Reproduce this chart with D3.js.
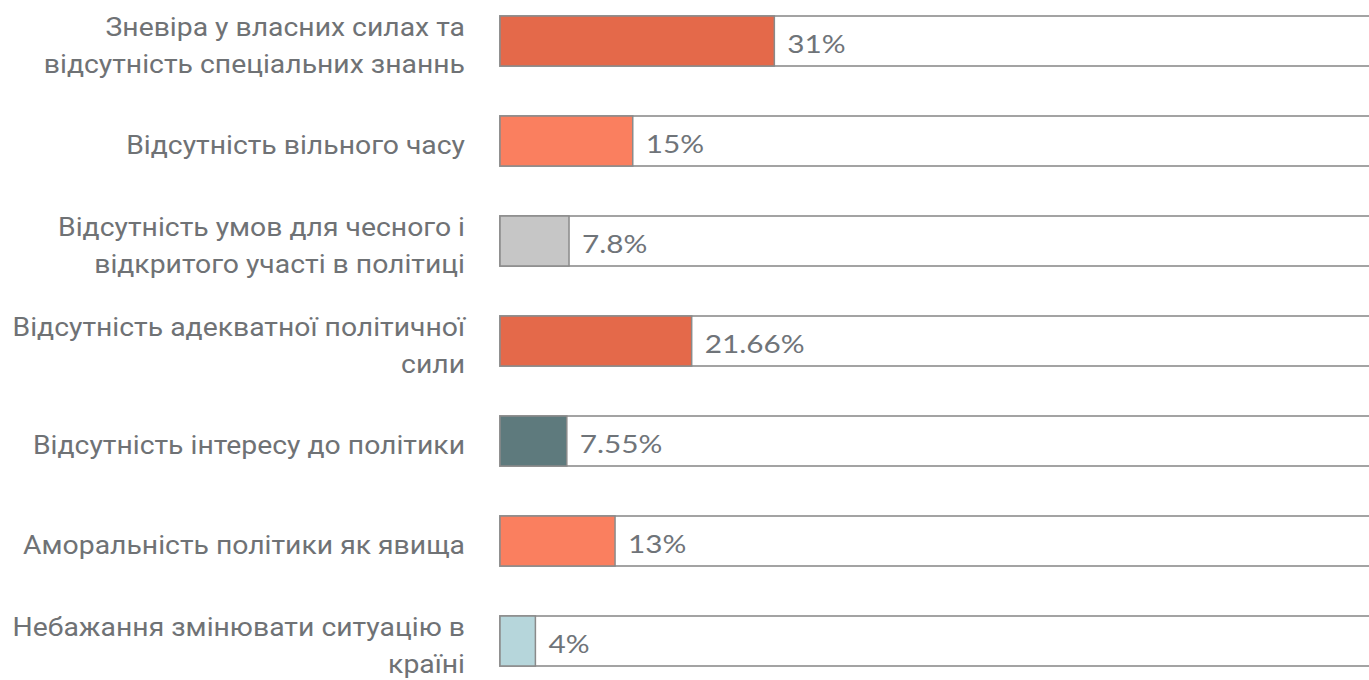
<!DOCTYPE html>
<html lang="en">
<head>
<meta charset="UTF-8">
<script src="https://d3js.org/d3.v7.min.js"></script>
<style>
  body { margin: 0; background: #fff; }
  .label { font-family: Roboto, "Noto Sans", sans-serif; font-size: 26px; fill: #6f7275; }
  .value { font-family: Lato, "Noto Sans", sans-serif; font-size: 25px; fill: #6f7479; }
</style>
</head>
<body>
<svg class="chart"></svg>
<script>

const categories = [
  ["Зневіра у власних силах та", "відсутність спеціальних знаннь"],
  ["Відсутність вільного часу"],
  ["Відсутність умов для чесного і", "відкритого участі в політиці"],
  ["Відсутність адекватної політичної", "сили"],
  ["Відсутність інтересу до політики"],
  ["Аморальність політики як явища"],
  ["Небажання змінювати ситуацію в", "країні"]
];
const values = [31, 15, 7.8, 21.66, 7.55, 13, 4];
const colors = ["#e4694a", "#fa7f5f", "#c6c6c6", "#e4694a", "#5e7a7d", "#fa7f5f", "#b6d6db"];

const width = 1369, height = 680;

const svg = d3.select(".chart")
    .attr("width", width)
    .attr("height", height);

const x = d3.scaleLinear()
    .domain([0, 100])
    .range([500, 1385]);

const y = d3.scaleBand()
    .domain(d3.range(values.length))
    .range([-9, 691])
    .paddingInner(0.5)
    .paddingOuter(0.25);

const rows = svg.selectAll(".row")
  .data(values)
  .enter().append("g")
    .attr("class", "row")
    .attr("transform", (d, i) => `translate(0,${y(i)})`);

// outline of the full 100% track
rows.append("rect")
    .attr("x", x(0))
    .attr("y", 0)
    .attr("width", x(100) - x(0))
    .attr("height", y.bandwidth())
    .style("fill", "#fff")
    .style("stroke", "#a3a3a3")
    .style("stroke-width", 2);

// the filled part
rows.append("rect")
    .attr("x", x(0))
    .attr("y", 0)
    .attr("width", d => x(d) - x(0))
    .attr("height", y.bandwidth())
    .style("fill", (d, i) => colors[i])
    .style("stroke", "#8a8a8a")
    .style("stroke-width", 1.5);

// value labels (source text is a bit stretched sideways)
rows.append("text")
    .attr("class", "value")
    .attr("transform", d => `translate(${x(d) + 13},${y.bandwidth() / 2 + 3}) scale(1.19,1)`)
    .attr("dy", "0.36em")
    .text(d => d + "%");

// category labels, one or two lines
const lineH = 37;
rows.append("text")
    .attr("class", "label")
    .attr("text-anchor", "end")
    .attr("transform", (d, i) =>
      `translate(465,${y.bandwidth() / 2 + 4 - (categories[i].length - 1) * lineH / 2}) scale(1.09,1)`)
  .selectAll("tspan")
  .data((d, i) => categories[i])
  .enter().append("tspan")
    .attr("x", 0)
    .attr("dy", (d, j) => j === 0 ? "0.36em" : lineH)
    .text(d => d);

</script>
</body>
</html>
